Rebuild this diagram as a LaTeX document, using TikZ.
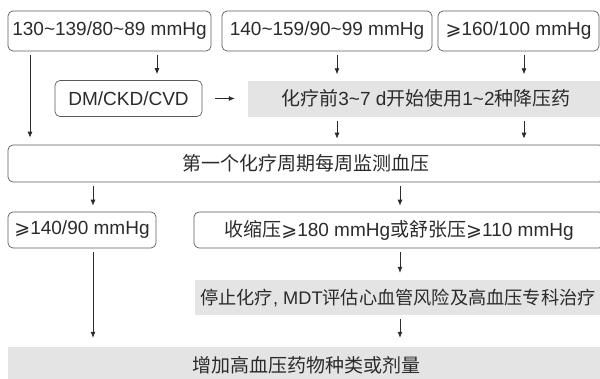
\documentclass[tikz,border=0pt]{standalone}
\usepackage{fontspec}
\setmainfont{Liberation Sans}
\newfontfamily\cjk{Noto Sans CJK SC}
\newfontfamily\symb{DejaVu Sans}
\usetikzlibrary{arrows.meta,calc,positioning}
\definecolor{edge}{HTML}{5A5A5A}
\definecolor{shade}{HTML}{E4E4E4}
\definecolor{ink}{HTML}{2B2B2B}
\newcommand{\tld}{\textasciitilde}
\newcommand{\geqs}{{\symb ⩾}}
\newcommand{\zh}[1]{{\cjk #1}}
\tikzstyle{box} = [draw=edge, rectangle, rounded corners=5pt, line width=0.7pt, minimum height=36pt, inner sep=0pt, text=ink]
\tikzstyle{shadebox} = [rectangle, fill=shade, minimum height=36pt, inner sep=0pt, text=ink]
\tikzstyle{line} = [draw=ink, line width=0.7pt, -{Latex[length=6pt,width=5pt]}, shorten <=4pt, shorten >=6pt]

\begin{document}
\begin{tikzpicture}[x=1pt, y=-1pt, font=\fontsize{19}{22}\selectfont]
	\clip (0,0) rectangle (600,378);
	\node[box, minimum width=203pt, minimum height=40pt](b1) at (109.5,31){130\tld139/80\tld89 mmHg};
	\node[box, minimum width=210pt, minimum height=40pt](b2) at (327,31){140\tld159/90\tld99 mmHg};
	\node[box, minimum width=161pt, minimum height=40pt](b3) at (518.5,31){\geqs160/100 mmHg};
	\node[box, minimum width=147pt](dm) at (128.5,98.5){DM/CKD/CVD};
	\node[shadebox, minimum width=356pt](drug) at (426,98.5){\zh{化疗前}3\tld7 d\zh{开始使用}1\tld2\zh{种降压药}};
	\node[box, minimum width=596pt, minimum height=37pt](mon) at (306,163.5){\zh{第一个化疗周期每周监测血压}};
	\node[box, minimum width=148pt](b140) at (82,230){\geqs140/90 mmHg};
	\node[box, minimum width=410pt](sys) at (399,230){\zh{收缩压}\geqs180 mmHg\zh{或舒张压}\geqs110 mmHg};
	\node[shadebox, minimum width=406pt, minimum height=35pt, font=\fontsize{18.2}{22}\selectfont](stop) at (398,297.5){\zh{停止化疗}, MDT\zh{评估心血管风险及高血压专科治疗}};
	\node[shadebox, minimum width=596pt](add) at (306,365){\zh{增加高血压药物种类或剂量}\hspace{20pt}};
	\coordinate (colL) at (30,0);
	\coordinate (colDM) at (157,0);
	\coordinate (colM) at (337,0);
	\coordinate (colH) at (524,0);
	\coordinate (colK) at (93,0);
	\coordinate (colS) at (400,0);

	\path [line] (b1.south -| colDM) -- (dm.north -| colDM);
	\path [line, shorten <=13pt, shorten >=13pt] (dm.east) -- (drug.west);
	\path [line] (b2.south -| colM) -- (drug.north -| colM);
	\path [line] (b3.south -| colH) -- (drug.north -| colH);
	\path [line, shorten >=7pt] (b1.south -| colL) -- (mon.north -| colL);
	\path [line] (drug.south -| colM) -- (mon.north -| colM);
	\path [line] (drug.south -| colH) -- (mon.north -| colH);
	\path [line] (mon.south -| colK) -- (b140.north -| colK);
	\path [line] (mon.south -| colS) -- (sys.north -| colS);
	\path [line, shorten >=7pt] (sys.south -| colS) -- (stop.north -| colS);
	\path [line, shorten >=9pt] (stop.south -| colS) -- (add.north -| colS);
	\path [line, shorten >=9pt] (b140.south -| colK) -- (add.north -| colK);
\end{tikzpicture}
\end{document}
